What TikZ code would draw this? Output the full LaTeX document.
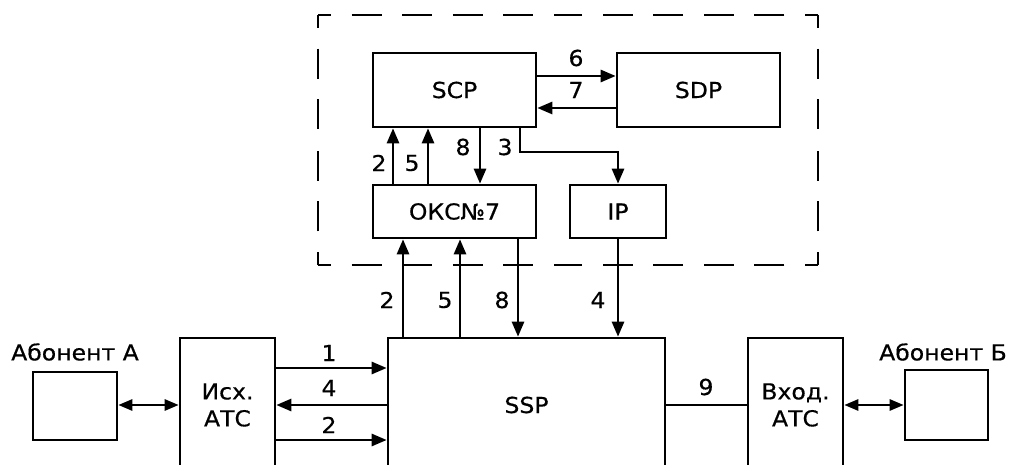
\documentclass[tikz,border=0pt]{standalone}
\usepackage{fontspec}
\setmainfont{DejaVu Sans}[FakeStretch=1.07,FakeBold=0.5]
\usetikzlibrary{arrows.meta,calc}
\begin{document}
\begin{tikzpicture}[x=1pt,y=-1pt,
  box/.style={draw,line width=2.6pt,inner sep=0pt,align=center,font=\fontsize{22}{27}\selectfont},
  lab/.style={inner sep=0pt,font=\fontsize{22}{27}\selectfont},
  conn/.style={line width=2.6pt},
  arr/.style={conn,-{Triangle[length=15pt,width=12pt]}},
  darr/.style={conn,{Triangle[length=14pt,width=11pt]}-{Triangle[length=14pt,width=11pt]}},
  frame/.style={line width=2.6pt,dash pattern=on 30pt off 20.6pt,dash phase=17pt}]
\useasboundingbox (0,0) rectangle (1012,465);
\coordinate (f1) at (318,15);
\coordinate (f2) at (818,15);
\coordinate (f3) at (818,265);
\coordinate (f4) at (318,265);
\draw[frame] (f1) -- ($(f1)!0.5!(f2)$);
\draw[frame] (f2) -- ($(f1)!0.5!(f2)$);
\draw[frame] (f4) -- ($(f4)!0.5!(f3)$);
\draw[frame] (f3) -- ($(f4)!0.5!(f3)$);
\draw[frame] (f1) -- ($(f1)!0.5!(f4)$);
\draw[frame] (f4) -- ($(f1)!0.5!(f4)$);
\draw[frame] (f2) -- ($(f2)!0.5!(f3)$);
\draw[frame] (f3) -- ($(f2)!0.5!(f3)$);
\node[box,minimum width=163pt,minimum height=74pt] (scp) at (454.5,90) {SCP};
\node[box,minimum width=163pt,minimum height=74pt] (sdp) at (698.5,90) {SDP};
\node[box,minimum width=163pt,minimum height=53pt] (okcn) at (454.5,211.5) {ОКС\char"2116 7};
\node[box,minimum width=96pt,minimum height=53pt] (ip) at (618,211.5) {IP};
\node[box,minimum width=277pt,minimum height=134pt] (ssp) at (526.5,405) {SSP};
\node[box,minimum width=95pt,minimum height=134pt] (isx) at (227.5,405) {Исх.\\АТС};
\node[box,minimum width=95pt,minimum height=134pt] (vx) at (795.5,405) {Вход.\\АТС};
\node[box,minimum width=84pt,minimum height=68pt] (aba) at (75,406) {};
\node[box,minimum width=83pt,minimum height=70pt] (abb) at (946.5,405) {};
\node[lab] (ta) at (75,352) {Абонент А};
\node[lab] (tb) at (943,352) {Абонент Б};
% SCP <-> SDP
\draw[arr] (scp.east |- 0,76) -- (sdp.west |- 0,76);
\draw[arr] (sdp.west |- 0,108) -- (scp.east |- 0,108);
\node[lab] (l6) at (576,58) {6};
\node[lab] (l7) at (576,90) {7};
% OKCN <-> SCP
\draw[arr] (okcn.north -| 393,0) -- (scp.south -| 393,0);
\draw[arr] (okcn.north -| 428,0) -- (scp.south -| 428,0);
\draw[arr] (scp.south -| 480,0) -- (okcn.north -| 480,0);
\draw[arr] (scp.south -| 520,0) |- (618,152) -- (ip.north);
\node[lab] (l2a) at (379,163) {2};
\node[lab] (l5a) at (412,163) {5};
\node[lab] (l8a) at (463,147) {8};
\node[lab] (l3a) at (505,147) {3};
% SSP <-> OKCN / IP
\draw[arr] (ssp.north -| 403,0) -- (okcn.south -| 403,0);
\draw[arr] (ssp.north -| 460,0) -- (okcn.south -| 460,0);
\draw[arr] (okcn.south -| 518,0) -- (ssp.north -| 518,0);
\draw[arr] (ip.south) -- (ssp.north -| ip.south);
\node[lab] (l2b) at (387,300) {2};
\node[lab] (l5b) at (445,300) {5};
\node[lab] (l8b) at (502,300) {8};
\node[lab] (l4b) at (598,300) {4};
% Isx <-> SSP
\draw[arr] (isx.east |- 0,368) -- (ssp.west |- 0,368);
\draw[arr] (ssp.west |- 0,405) -- (isx.east |- 0,405);
\draw[arr] (isx.east |- 0,440) -- (ssp.west |- 0,440);
\node[lab] (l1) at (329,353) {1};
\node[lab] (l4) at (329,388) {4};
\node[lab] (l2) at (329,425) {2};
% SSP - Vx
\draw[conn] (ssp.east |- 0,405) -- (vx.west |- 0,405);
\node[lab] (l9) at (706,387) {9};
% subscribers
\draw[darr] (aba.east |- 0,405) -- (isx.west |- 0,405);
\draw[darr] (vx.east |- 0,405) -- (abb.west |- 0,405);
\end{tikzpicture}
\end{document}
